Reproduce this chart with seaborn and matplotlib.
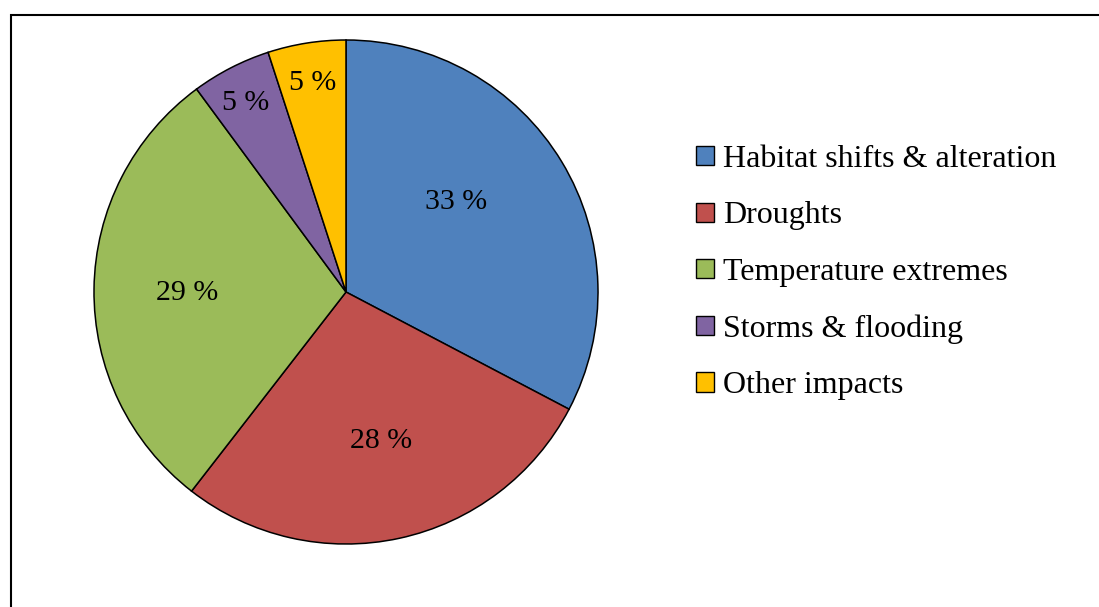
import numpy as np
import matplotlib
matplotlib.use("Agg")
import matplotlib.pyplot as plt
import seaborn as sns
from matplotlib.patches import Rectangle

# datos del gráfico
categorias = ["Habitat shifts & alteration", "Droughts", "Temperature extremes",
              "Storms & flooding", "Other impacts"]
porcentajes = [32.7, 27.8, 29.4, 5.1, 5.0]

colores = ["#4F81BD", "#C0504D", "#9BBB59", "#8064A2", "#FFC000"]
# distancia radial y giro (grados) de cada etiqueta
dist_etiqueta = [0.57, 0.595, 0.63, 0.86, 0.85]
giro_etiqueta = [9, 1.3, 0, 0.5, 0]

sns.set_theme(style="white")
plt.rcParams['font.family'] = ['Liberation Serif', 'DejaVu Serif']
plt.rcParams['text.color'] = 'black'

fig = plt.figure(figsize=(10.99, 6.07), dpi=100)
ax = fig.add_axes([94 / 1099, 63 / 607, 504 / 1099, 504 / 607])

wedges, _ = ax.pie(porcentajes, colors=colores, startangle=90, counterclock=False,
                   wedgeprops=dict(edgecolor="black", linewidth=1.1))
ax.set_xlim(-1, 1)
ax.set_ylim(-1, 1)
ax.set_aspect("equal")

for w, p, d, g in zip(wedges, porcentajes, dist_etiqueta, giro_etiqueta):
    ang = np.deg2rad((w.theta1 + w.theta2) / 2 + g)
    ax.text(d * np.cos(ang), d * np.sin(ang), f"{p:.0f} %", ha="center",
            va="center_baseline", fontsize=21.5, color="black")

leg = fig.legend(wedges, categorias, loc="upper left",
                 bbox_to_anchor=(696 / 1099, 1 - 145 / 607),
                 frameon=False, fontsize=23, handlelength=0.55, handleheight=0.55,
                 handletextpad=0.3, labelspacing=0.86, borderpad=0, borderaxespad=0)
for h in leg.legend_handles:
    h.set_edgecolor("black")
    h.set_linewidth(1.0)
for t in leg.get_texts():
    t.set_color("black")

# marco exterior
fig.patches.append(Rectangle((11 / 1099, -0.05), 1.1, 1 - 14.5 / 607 + 0.05,
                             transform=fig.transFigure, fill=False,
                             edgecolor="black", linewidth=1.5))

fig.savefig("out.png", dpi=100)
